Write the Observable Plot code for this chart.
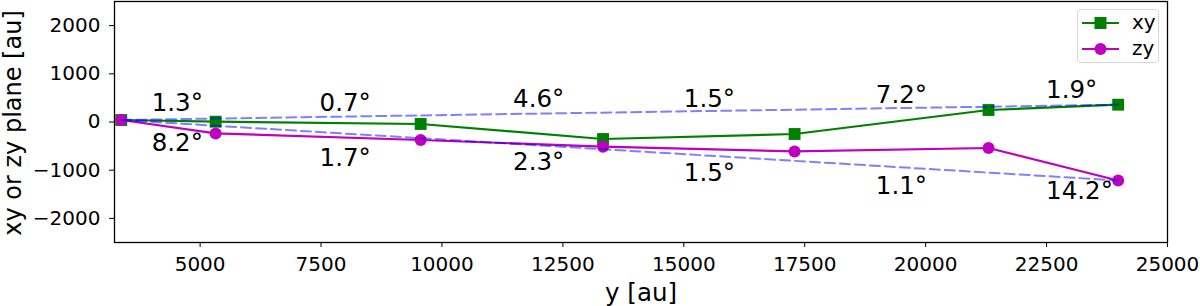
<!DOCTYPE html>
<html><head><meta charset="utf-8">
<script src="https://cdn.jsdelivr.net/npm/d3@7"></script>
<script src="https://cdn.jsdelivr.net/npm/@observablehq/plot@0.6"></script>
<style>
html,body{margin:0;padding:0;background:#fff;}
#wrap{position:relative;width:1200px;height:306px;font-family:"DejaVu Sans",sans-serif;}
#legend{position:absolute;left:1077px;top:9px;}
</style></head><body><div id="wrap"></div>
<script>
// ---- data ----
const positions = [3370, 5320, 9560, 13330, 17290, 21300, 23980];
const xyValues = [41, 6, -41, -353, -249, 249, 359];
const zyValues = [41, -237, -373, -512, -610, -539, -1213];
const upperAngles = ["1.3°", "0.7°", "4.6°", "1.5°", "7.2°", "1.9°"];
const lowerAngles = ["8.2°", "1.7°", "2.3°", "1.5°", "1.1°", "14.2°"];
const angleX = [4000, 7470, 11470, 15000, 18970, 22490];
const upperAngleY = [234, 234, 303, 317, 386, 498];
const lowerAngleY = [-595, -907, -996, -1218, -1494, -1598];
const xTicks = [5000, 7500, 10000, 12500, 15000, 17500, 20000, 22500, 25000];
const yTicks = [-2000, -1000, 0, 1000, 2000];
const seriesNames = ["xy", "zy"];
const seriesColors = ["#008000", "#bf00bf"];
const seriesSymbols = ["square", "circle"];

// ---- tables ----
const xy = positions.map((x, i) => ({x, v: xyValues[i]}));
const zy = positions.map((x, i) => ({x, v: zyValues[i]}));
const n = positions.length;
const upperTrend = [xy[0], xy[n - 1]];
const lowerTrend = [zy[0], zy[n - 1]];
const fmt = d => d < 0 ? "\u2212" + Math.abs(d) : String(d);
const FONT = '"DejaVu Sans", sans-serif';

const chart = Plot.plot({
  width: 1200, height: 306,
  marginLeft: 114, marginRight: 33, marginTop: 1, marginBottom: 64,
  style: {fontFamily: FONT, background: "white", color: "black", overflow: "visible"},
  x: {domain: [3230, 25000]},
  y: {domain: [-2500, 2500]},
  marks: [
    Plot.axisX({ticks: xTicks, tickFormat: fmt, tickSize: 5, tickPadding: 9, fontSize: 20, label: null, stroke: "black"}),
    Plot.axisY({ticks: yTicks, tickFormat: fmt, tickSize: 5, tickPadding: 9, fontSize: 20, label: null, stroke: "black"}),
    Plot.text(["y [au]"], {frameAnchor: "bottom", textAnchor: "middle", dy: 58, fontSize: 24.5, lineAnchor: "bottom", fill: "black"}),
    Plot.text(["xy or zy plane [au]"], {frameAnchor: "left", textAnchor: "middle", dx: -94, dy: 1, rotate: -90, fontSize: 24, lineAnchor: "bottom", fill: "black"}),
    Plot.line(xy, {x: "x", y: "v", stroke: seriesColors[0], strokeWidth: 2.2}),
    Plot.dot(xy, {x: "x", y: "v", symbol: seriesSymbols[0], r: 6.7, fill: seriesColors[0]}),
    Plot.line(zy, {x: "x", y: "v", stroke: seriesColors[1], strokeWidth: 2.2}),
    Plot.dot(zy, {x: "x", y: "v", symbol: seriesSymbols[1], r: 6, fill: seriesColors[1]}),
    Plot.line(upperTrend, {x: "x", y: "v", stroke: "blue", strokeOpacity: 0.5, strokeWidth: 2, strokeDasharray: "10,5"}),
    Plot.line(lowerTrend, {x: "x", y: "v", stroke: "blue", strokeOpacity: 0.5, strokeWidth: 2, strokeDasharray: "10,5"}),
    Plot.text(upperAngles, {x: (d, i) => angleX[i], y: (d, i) => upperAngleY[i], text: d => d, textAnchor: "start", lineAnchor: "bottom", fontSize: 24.5, fill: "black"}),
    Plot.text(lowerAngles, {x: (d, i) => angleX[i], y: (d, i) => lowerAngleY[i], text: d => d, textAnchor: "start", lineAnchor: "bottom", fontSize: 24.5, fill: "black"}),
    Plot.frame({stroke: "black", strokeWidth: 1.3})
  ]
});
const wrap = document.getElementById("wrap");
wrap.appendChild(chart);

// ---- legend (inside plot area, top right) ----
const W = 82, H = 54, rowH = 26;
const leg = d3.create("svg").attr("id", "legend").attr("width", W).attr("height", H)
  .style("font-family", FONT);
leg.append("rect").attr("x", 0.5).attr("y", 0.5).attr("width", W - 1).attr("height", H - 1)
  .attr("rx", 3).attr("fill", "white").attr("fill-opacity", 0.8).attr("stroke", "#d6d6d6");
seriesNames.forEach((name, i) => {
  const cy = 14 + i * rowH;
  const g = leg.append("g");
  g.append("line").attr("x1", 5).attr("x2", 42).attr("y1", cy).attr("y2", cy)
    .attr("stroke", seriesColors[i]).attr("stroke-width", 2);
  if (seriesSymbols[i] === "square") {
    g.append("rect").attr("x", 23.5 - 6).attr("y", cy - 6).attr("width", 12).attr("height", 12).attr("fill", seriesColors[i]);
  } else {
    g.append("circle").attr("cx", 23.5).attr("cy", cy).attr("r", 6).attr("fill", seriesColors[i]);
  }
  g.append("text").attr("x", 55).attr("y", cy + 5.5).attr("font-size", 20).attr("fill", "black").text(name);
});
wrap.appendChild(leg.node());
</script>
</body></html>
